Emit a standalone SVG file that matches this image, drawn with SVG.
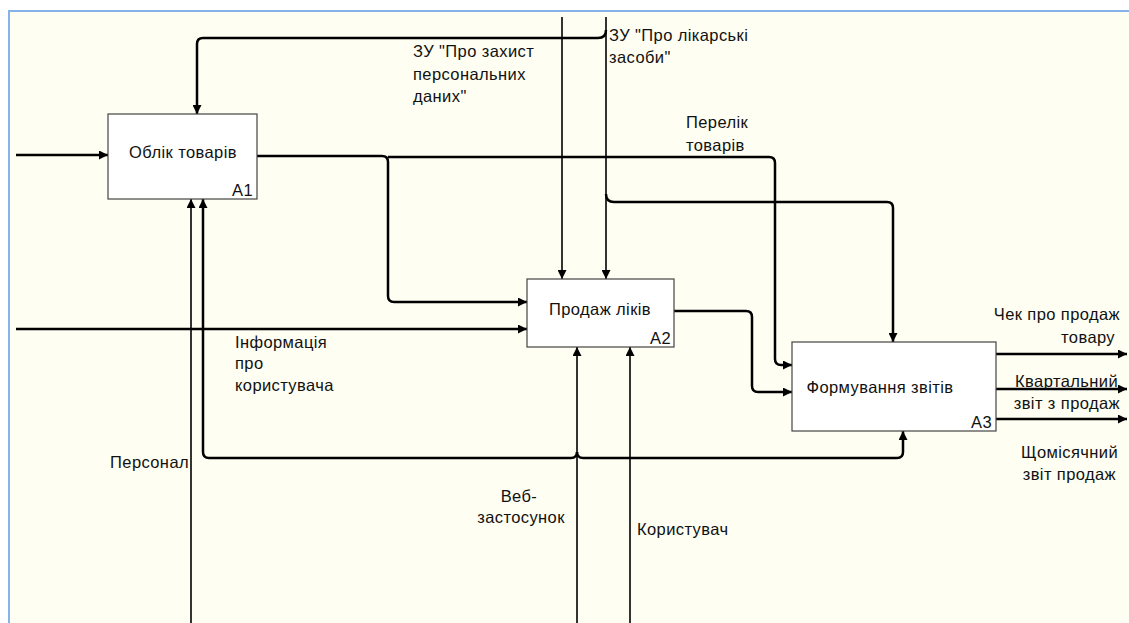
<svg xmlns="http://www.w3.org/2000/svg" width="1129" height="623" viewBox="0 0 1129 623">
<style>
.bg{fill:#fefef2;stroke:#86b4ea;stroke-width:2}
.box{fill:#ffffff;stroke:#444444;stroke-width:1.2}
.c{fill:none;stroke:#000;stroke-width:2.5}
.t{fill:none;stroke:#000;stroke-width:1.6}
text{font-family:"Liberation Sans",Arial,sans-serif;font-size:16.5px;letter-spacing:0.4px;fill:#111}
.n{text-anchor:middle}
.e{text-anchor:end}
</style>
<defs>
<marker id="ar" viewBox="0 0 10 10" refX="10" refY="5" markerWidth="10" markerHeight="9" markerUnits="userSpaceOnUse" orient="auto">
<path d="M0,0 L10,5 L0,10 z" fill="#000"/>
</marker>
</defs>
<rect x="0" y="0" width="1129" height="623" fill="#ffffff"/>
<rect class="bg" x="9" y="11" width="1130" height="620"/>
<g id="connectors">
<path class="c" d="M16,155 H108" marker-end="url(#ar)"/>
<path class="t" d="M562,17 V279" marker-end="url(#ar)"/>
<path class="t" d="M606,17 V279" marker-end="url(#ar)"/>
<path class="c" d="M606,30 Q606,38 598,38 H203 Q197,38 197,44 V114" marker-end="url(#ar)"/>
<path class="c" d="M606,194 Q606,202 614,202 H887 Q893,202 893,208 V342" marker-end="url(#ar)"/>
<path class="c" d="M257,156 H382 Q388,156 388,162 V296 Q388,302 394,302 H527" marker-end="url(#ar)"/>
<path class="c" d="M388,157 H769 Q775,157 775,163 V359 Q775,365 781,365 H792" marker-end="url(#ar)"/>
<path class="c" d="M674,311 H746 Q752,311 752,317 V386 Q752,392 758,392 H792" marker-end="url(#ar)"/>
<path class="c" d="M16,329 H527" marker-end="url(#ar)"/>
<path class="t" d="M191,623 V199" marker-end="url(#ar)"/>
<path class="t" d="M577,623 V347" marker-end="url(#ar)"/>
<path class="t" d="M630,623 V347" marker-end="url(#ar)"/>
<path class="c" d="M577,452 Q577,458 571,458 H209 Q203,458 203,452 V199" marker-end="url(#ar)"/>
<path class="c" d="M577,452 Q577,458 583,458 H897 Q903,458 903,452 V431" marker-end="url(#ar)"/>
<path class="c" d="M996,354 H1127" marker-end="url(#ar)"/>
<path class="c" d="M996,389 H1127" marker-end="url(#ar)"/>
<path class="c" d="M996,419 H1127" marker-end="url(#ar)"/>
</g>
<g id="A1">
<rect class="box" x="108" y="114" width="149" height="85"/>
<text class="n" x="183" y="158">Облік товарів</text>
<text x="232" y="196">A1</text>
</g>
<g id="A2">
<rect class="box" x="527" y="279" width="147" height="68"/>
<text class="n" x="600" y="315">Продаж ліків</text>
<text x="650" y="344">A2</text>
</g>
<g id="A3">
<rect class="box" x="792" y="342" width="204" height="89"/>
<text class="n" x="880" y="393">Формування звітів</text>
<text x="971" y="428">A3</text>
</g>
<g id="labels">
<text x="413" y="57">ЗУ "Про захист</text>
<text x="413" y="80">персональних</text>
<text x="413" y="102">даних"</text>
<text x="609" y="41">ЗУ "Про лікарські</text>
<text x="609" y="63">засоби"</text>
<text x="686" y="128">Перелік</text>
<text x="686" y="151">товарів</text>
<text x="235" y="348">Інформація</text>
<text x="235" y="369">про</text>
<text x="235" y="391">користувача</text>
<text class="e" x="189" y="468">Персонал</text>
<text class="n" x="519" y="502">Веб-</text>
<text class="n" x="521" y="523">застосунок</text>
<text x="637" y="535">Користувач</text>
<text class="e" x="1120" y="320">Чек про продаж</text>
<text class="e" x="1115" y="343">товару</text>
<text class="e" x="1118" y="387">Квартальний</text>
<text class="e" x="1120" y="409">звіт з продаж</text>
<text class="e" x="1118" y="458">Щомісячний</text>
<text class="e" x="1116" y="480">звіт продаж</text>
</g>
</svg>
